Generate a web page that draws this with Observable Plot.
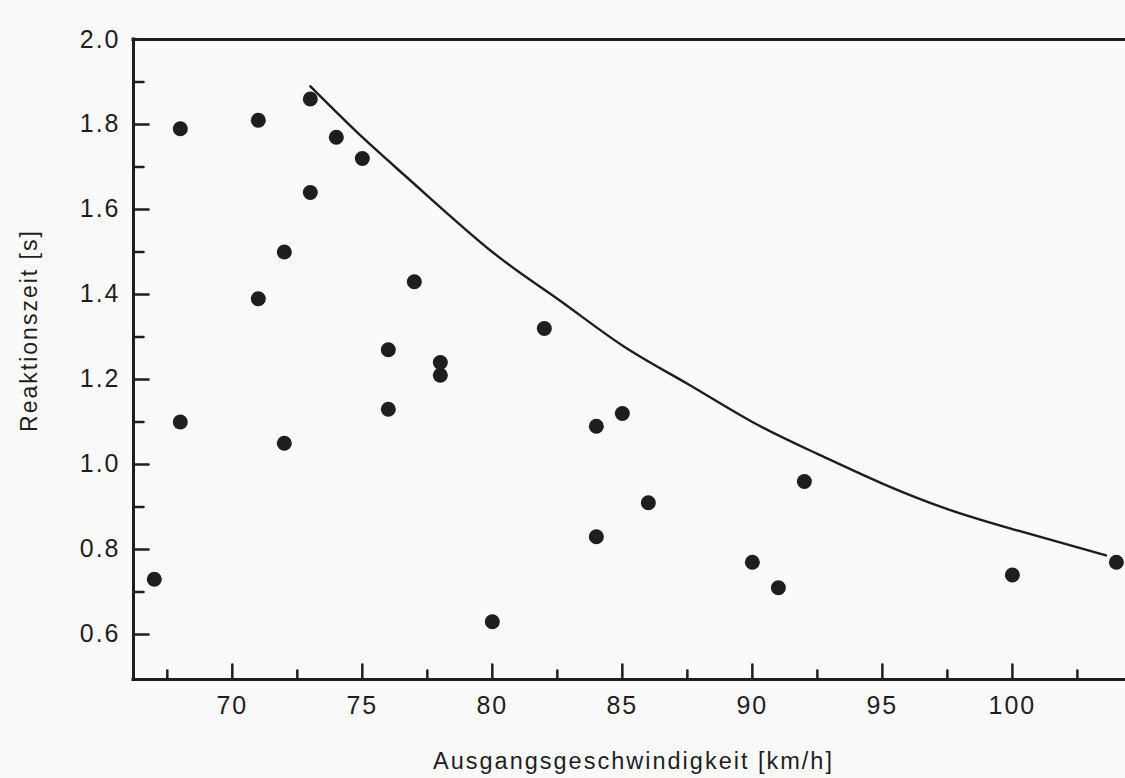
<!DOCTYPE html>
<html><head><meta charset="utf-8">
<script src="https://cdn.jsdelivr.net/npm/d3@7"></script>
<script src="https://cdn.jsdelivr.net/npm/@observablehq/plot@0.6"></script>
<style>
html,body{margin:0;padding:0;background:#fafafa;}
#chart svg{display:block;}
</style></head><body><div id="chart"></div>
<script>
// Measured points: initial speed (km/h) and reaction time (s)
const speed = [68,71,73,74,75,73,72,71,77,76,78,78,76,68,72,67,80,82,84,85,86,84,92,90,91,100,104];
const reaction = [1.79,1.81,1.86,1.77,1.72,1.64,1.50,1.39,1.43,1.27,1.24,1.21,1.13,1.10,1.05,0.73,0.63,1.32,1.09,1.12,0.91,0.83,0.96,0.77,0.71,0.74,0.77];
// Envelope curve
const curveSpeed = [73,75,77,80,82.5,85,87.5,90,92.5,95,97.5,100,103.6];
const curveTime = [1.89,1.77,1.66,1.50,1.39,1.28,1.19,1.10,1.025,0.955,0.895,0.848,0.786];
// Ticks
const xMajorTicks = [70,75,80,85,90,95,100];
const xMinorTicks = [67.5,72.5,77.5,82.5,87.5,92.5,97.5,102.5];
const yMajorTicks = [0.6,0.8,1.0,1.2,1.4,1.6,1.8,2.0];
const yMinorTicks = [0.7,0.9,1.1,1.3,1.5,1.7,1.9];
const xDomain = [66.2,104.35];
const yDomain = [0.494,2.0];
const xTitle = "Ausgangsgeschwindigkeit [km/h]";
const yTitle = "Reaktionszeit [s]";

const ink = "#1e1e1e";
const tickShape = {draw(context, l) { context.moveTo(0, 0); context.lineTo(0, -l); }};
const chart = Plot.plot({
  width: 1125, height: 778,
  marginLeft: 133, marginTop: 39, marginRight: 0, marginBottom: 99,
  style: {background: "#fafafa", color: ink, fontFamily: "'Liberation Sans', Arial, Helvetica, sans-serif"},
  x: {domain: xDomain},
  y: {domain: yDomain},
  marks: [
    Plot.ruleX([xDomain[0]], {stroke: ink, strokeWidth: 3, strokeLinecap: "square"}),
    Plot.ruleY([yDomain[0]], {stroke: ink, strokeWidth: 3, strokeLinecap: "square"}),
    Plot.ruleY([yDomain[1]], {stroke: ink, strokeWidth: 3, strokeLinecap: "square"}),
    Plot.vector(xMajorTicks, {x: d => d, frameAnchor: "bottom", length: 15, rotate: 0, anchor: "start", shape: tickShape, stroke: ink, strokeWidth: 2.5}),
    Plot.vector(xMinorTicks, {x: d => d, frameAnchor: "bottom", length: 9, rotate: 0, anchor: "start", shape: tickShape, stroke: ink, strokeWidth: 2.5}),
    Plot.vector(yMajorTicks, {y: d => d, frameAnchor: "left", length: 15, rotate: 90, anchor: "start", shape: tickShape, stroke: ink, strokeWidth: 2.5}),
    Plot.vector(yMinorTicks, {y: d => d, frameAnchor: "left", length: 10, rotate: 90, anchor: "start", shape: tickShape, stroke: ink, strokeWidth: 2.5}),
    Plot.axisX(xMajorTicks, {tickSize: 0, tickPadding: 17, fontSize: 25, tickFormat: d => String(d), label: null}),
    Plot.axisY(yMajorTicks, {tickSize: 0, tickPadding: 13, fontSize: 25, tickFormat: d3.format(".1f"), label: null}),
    Plot.line(curveSpeed, {x: curveSpeed, y: curveTime, curve: "natural", stroke: ink, strokeWidth: 2.4}),
    Plot.dot(speed, {x: speed, y: reaction, r: 7.5, fill: ink, stroke: "none"}),
    Plot.text([xTitle], {text: d => d, frameAnchor: "bottom", textAnchor: "middle", lineAnchor: "bottom", dy: 89, dx: 4, fontSize: 23.5, fill: ink, ariaLabel: "x-title"}),
    Plot.text([yTitle], {text: d => d, frameAnchor: "left", textAnchor: "middle", lineAnchor: "bottom", rotate: -90, dx: -97, dy: -29, fontSize: 23, fill: ink, ariaLabel: "y-title"})
  ]
});
document.getElementById("chart").appendChild(chart);
d3.select(chart).selectAll("text").style("letter-spacing", "2px");
d3.select(chart).selectAll('g[aria-label="x-title"] text').style("letter-spacing", "3.1px");
d3.select(chart).selectAll('g[aria-label="y-title"] text').style("letter-spacing", "2.5px");
</script>
</body></html>
